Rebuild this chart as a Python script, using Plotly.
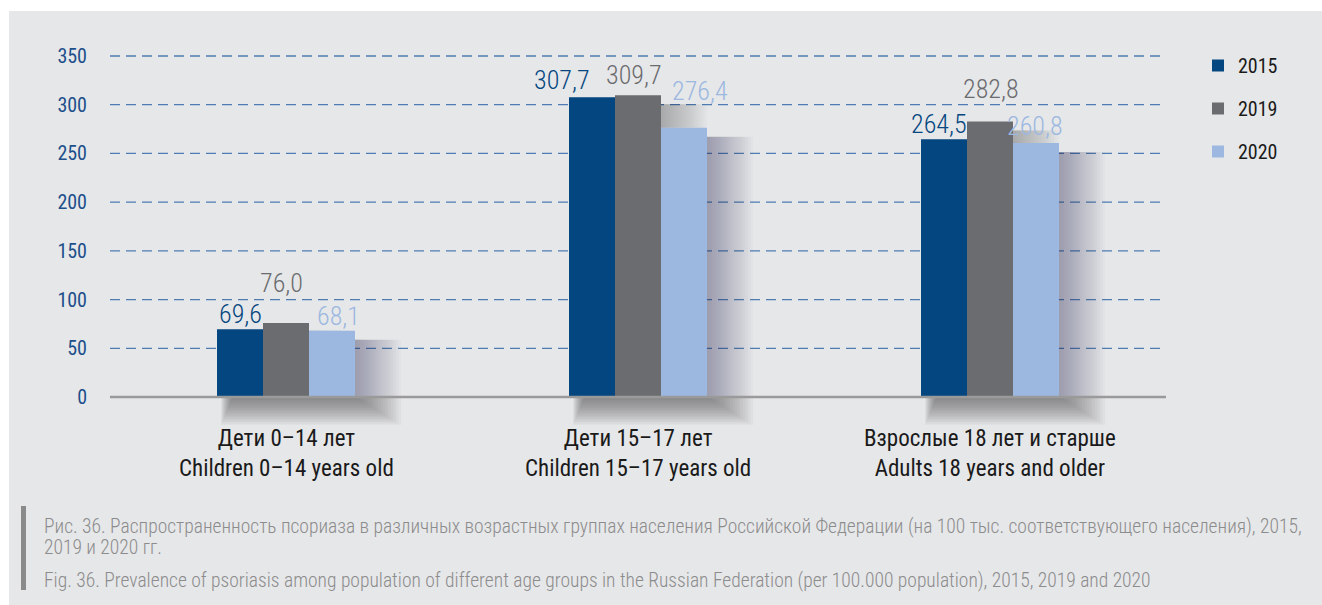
import plotly.graph_objects as go

# Prevalence of psoriasis per 100 000 population
categories = ["Дети 0–14 лет<br>Children 0–14 years old",
              "Дети 15–17 лет<br>Children 15–17 years old",
              "Взрослые 18 лет и старше<br>Adults 18 years and older"]
years = ["2015", "2019", "2020"]
values_2015 = [69.6, 307.7, 264.5]
values_2019 = [76.0, 309.7, 282.8]
values_2020 = [68.1, 276.4, 260.8]
y_ticks = [0, 50, 100, 150, 200, 250, 300, 350]

series = [values_2015, values_2019, values_2020]
colors = ["#04467f", "#6b6c6f", "#9cb8e0"]

# per-label nudges (x px, height of label centre above bar top in px)
label_shift = [
    [(0, 15), (-5, 40), (7, 15)],
    [(-30, 17), (-4, 20), (16, 37)],
    [(-5, 15), (1, 32), (-1, 17)],
]

FONT = "Roboto Condensed, Liberation Sans Narrow, Arial Narrow, Liberation Sans, sans-serif"

W, H = 1322, 605
ZERO_Y = 397                       # pixel row of the value axis zero
L, R, T, B = 110, 1166, 40, 432    # plot area in pixels (extends below zero for the shadow)
px_per_unit = (ZERO_Y - 56) / 350.0
y_max = 350 + (ZERO_Y - T - 341) / px_per_unit
y_min = -(B - ZERO_Y) / px_per_unit
BARGAP = 0.608
X_RANGE = [-0.5, 2.5]

n = len(years)
bw = (1 - BARGAP) / n
ux = (X_RANGE[1] - X_RANGE[0]) / (R - L)   # data units per pixel, x
uy = 1.0 / px_per_unit                      # data units per pixel, y

def px_x(X):
    return (X - L) / (R - L)

def px_y(Y):
    return (B - Y) / (B - T)

fig = go.Figure()

for yr, vals, col in zip(years, series, colors):
    fig.add_trace(go.Bar(
        x=list(range(len(categories))), y=vals, name=yr,
        marker=dict(color=col, line=dict(width=0)),
        legendgroup=yr,
    ))

ann = []
for si, (vals, col) in enumerate(zip(series, colors)):
    for ci, v in enumerate(vals):
        dx, dy = label_shift[ci][si]
        ann.append(dict(
            x=ci + (si - (n - 1) / 2) * bw, y=v, xref="x", yref="y",
            text=f"{v:.1f}".replace(".", ","), showarrow=False,
            xanchor="center", yanchor="middle", xshift=dx, yshift=dy,
            font=dict(family=FONT, size=26, color=col, weight=300),
        ))

# category labels under the axis
for ci, cat in enumerate(categories):
    ann.append(dict(x=ci, y=px_y(ZERO_Y + 26), xref="x", yref="paper", text=cat,
                    showarrow=False, xanchor="center", yanchor="top",
                    font=dict(family=FONT, size=23, color="#1a1a1a")))

caption_ru = ("Рис. 36. Распространенность псориаза в различных возрастных группах населения "
              "Российской Федерации (на 100 тыс. соответствующего населения), 2015,")
caption_ru2 = "2019 и 2020 гг."
caption_en = ("Fig. 36. Prevalence of psoriasis among population of different age groups in the "
              "Russian Federation (per 100.000 population), 2015, 2019 and 2020")
for txt, yy in [(caption_ru, 526), (caption_ru2, 547), (caption_en, 580)]:
    ann.append(dict(x=px_x(42), y=px_y(yy), xref="paper", yref="paper", text=txt,
                    showarrow=False, xanchor="left", yanchor="middle",
                    font=dict(family=FONT, size=19.5, color="#8c8c8c", weight=300)))

shapes = [
    # grey panel
    dict(type="rect", xref="paper", yref="paper", x0=px_x(9), x1=px_x(W + 5),
         y0=px_y(11), y1=px_y(H + 5), fillcolor="#e6e7e9", line=dict(width=0), layer="below"),
    # caption side bar
    dict(type="rect", xref="paper", yref="paper", x0=px_x(21), x1=px_x(26),
         y0=px_y(506), y1=px_y(590), fillcolor="#8a8a8a", line=dict(width=0)),
]

# soft shadow to the right of / beneath each bar group, stacked translucent rectangles
STEPS, SPREAD_X, SPREAD_Y = 18, 46, 28
SHADE = "rgba(60,60,66,0.024)"
UNDER = "rgba(60,60,66,0.045)"
under_axis = []
for ci in range(len(categories)):
    group_left_px = L + (ci - n * bw / 2 - X_RANGE[0]) / ux
    for si in range(n):
        v = series[si][ci]
        right = ci + (si - (n - 1) / 2) * bw + bw / 2
        right_px = L + (right - X_RANGE[0]) / ux
        top = v - 9 * uy
        if si < n - 1:
            nxt = series[si + 1][ci]
            if v <= nxt:
                continue
            base, alpha_col, x_start = nxt, "rgba(60,60,66,0.020)", right - 2 * ux
        else:
            base, alpha_col, x_start = 0, SHADE, right
            # part under the zero line, placed in page coordinates
            for k in range(STEPS):
                f = (k + 1) / STEPS
                under_axis.append(dict(
                    type="rect", xref="paper", yref="paper",
                    x0=px_x(group_left_px + 4 + 12 * (1 - f)),
                    x1=px_x(right_px + SPREAD_X * f),
                    y0=px_y(ZERO_Y + SPREAD_Y * f), y1=px_y(ZERO_Y),
                    fillcolor=UNDER, line=dict(width=0), layer="above"))
        for k in range(STEPS):
            f = (k + 1) / STEPS
            shapes.append(dict(type="rect", xref="x", yref="y",
                               x0=x_start, x1=right + SPREAD_X * f * ux,
                               y0=base, y1=top, fillcolor=alpha_col,
                               line=dict(width=0), layer="below"))

for t in y_ticks[1:]:
    shapes.append(dict(type="line", xref="paper", yref="y", x0=0, x1=1, y0=t, y1=t,
                       line=dict(color="#4f7db3", width=1.3, dash="10px,6px"), layer="below"))
shapes.extend(under_axis)
shapes.append(dict(type="line", xref="paper", yref="paper", x0=0, x1=1,
                   y0=px_y(ZERO_Y), y1=px_y(ZERO_Y),
                   line=dict(color="#9a9a9a", width=2.5), layer="above"))

fig.update_layout(
    width=W, height=H,
    margin=dict(l=L, r=W - R, t=T, b=H - B, pad=0),
    paper_bgcolor="white", plot_bgcolor="rgba(0,0,0,0)",
    barmode="group", bargap=BARGAP, bargroupgap=0,
    font=dict(family=FONT),
    xaxis=dict(range=X_RANGE, showticklabels=False, showgrid=False, zeroline=False,
               showline=False, ticks=""),
    yaxis=dict(range=[y_min, y_max], tickvals=y_ticks, showgrid=False, zeroline=False,
               showline=False, ticks="", tickfont=dict(family=FONT, size=20, color="#1d4f8b"),
               ticklabelstandoff=22),
    legend=dict(x=px_x(1198), y=px_y(46), xanchor="left", yanchor="top",
                bgcolor="rgba(0,0,0,0)", font=dict(family=FONT, size=20, color="#1a1a1a"),
                tracegroupgap=14, itemwidth=30),
    shapes=shapes, annotations=ann, showlegend=True,
)

fig.write_html("out.html")
